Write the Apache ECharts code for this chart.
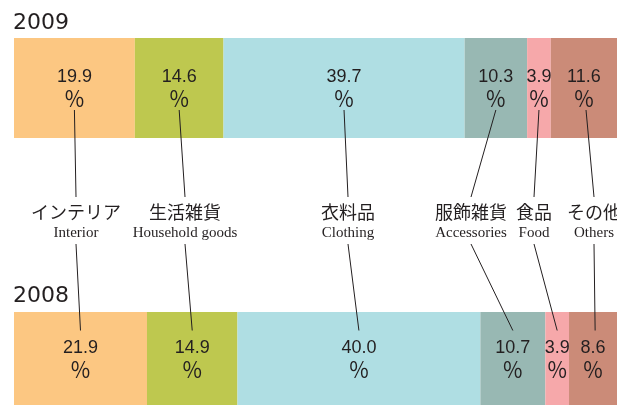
<!DOCTYPE html>
<html>
<head>
<meta charset="utf-8">
<script src="https://cdn.jsdelivr.net/npm/echarts@6/dist/echarts.min.js"></script>
<style>
  html, body { margin: 0; padding: 0; background: #fff; }
  #main { width: 617px; height: 405px; }
</style>
</head>
<body>
<div id="main"></div>
<script>
// カテゴリ
const namesJa = ['インテリア', '生活雑貨', '衣料品', '服飾雑貨', '食品', 'その他']
const namesEn = ['Interior', 'Household goods', 'Clothing', 'Accessories', 'Food', 'Others']
const years   = ['2009', '2008']

// 構成比 (%)
const share2009 = [19.9, 14.6, 39.7, 10.3, 3.9, 11.6]
const share2008 = [21.9, 14.9, 40.0, 10.7, 3.9, 8.6]

const colors = ['#fcc782', '#bec84f', '#afdee3', '#98b8b3', '#f6a8aa', '#cb8b78']

// 中段ラベルの中心 x (レイアウト用)
const labelX = [76, 185, 348, 471, 534, 594]

const textColor = '#231f20'
const shares = [share2009, share2008]

const valueLabel = {
  show: true,
  position: 'inside',
  formatter: p => '{n|' + p.value.toFixed(1) + '}\n{p|％}',
  rich: {
    n: { fontSize: 18, fontFamily: 'Liberation Sans', color: textColor, lineHeight: 21 },
    p: { fontSize: 21, fontFamily: 'Noto Sans CJK JP', color: textColor, lineHeight: 21 },
  },
}

const series = []
shares.forEach((arr, g) => {
  arr.forEach((v, i) => {
    series.push({
      name: namesEn[i] + ' ' + years[g],
      type: 'bar',
      stack: 'y' + g,
      xAxisIndex: g,
      yAxisIndex: g,
      barWidth: '100%',
      data: [v],
      itemStyle: { color: colors[i] },
      label: valueLabel,
      silent: true,
    })
  })
})

const chart = echarts.init(document.getElementById('main'))
chart.setOption({
  animation: false,
  title: years.map((y, g) => ({
    text: y,
    left: 13,
    top: g === 0 ? 12 : 285,
    padding: 0,
    textStyle: { fontSize: 22, fontWeight: 'normal', fontFamily: 'DejaVu Sans', color: textColor },
  })),
  // 右端は元図で切れているので、軸の上限を少し手前にして切り取りを再現
  grid: [
    { left: 14, top: 38, right: 0, height: 100 },
    { left: 14, top: 312, right: 0, height: 100 },
  ],
  xAxis: [0, 1].map(g => ({ type: 'value', gridIndex: g, min: 0, max: 99.3, show: false })),
  yAxis: [0, 1].map(g => ({ type: 'category', gridIndex: g, data: [years[g]], show: false })),
  series,
})

// 引き出し線と中段ラベル
const mid = (arr, i) => arr.slice(0, i).reduce((s, v) => s + v, 0) + arr[i] / 2
const graphics = []
namesJa.forEach((ja, i) => {
  const top = chart.convertToPixel({ xAxisIndex: 0, yAxisIndex: 0 }, [mid(share2009, i), years[0]])
  const bot = chart.convertToPixel({ xAxisIndex: 1, yAxisIndex: 1 }, [mid(share2008, i), years[1]])
  graphics.push({
    type: 'line',
    z: 100,
    shape: { x1: top[0], y1: top[1] + 22, x2: labelX[i], y2: 197 },
    style: { stroke: textColor, lineWidth: 1 },
  })
  graphics.push({
    type: 'line',
    z: 100,
    shape: { x1: labelX[i], y1: 244, x2: bot[0], y2: bot[1] - 28 },
    style: { stroke: textColor, lineWidth: 1 },
  })
  graphics.push({
    type: 'text',
    z: 100,
    x: labelX[i],
    y: 212,
    style: { text: ja, font: '18px "Noto Sans CJK JP"', fill: textColor, align: 'center', verticalAlign: 'middle' },
  })
  graphics.push({
    type: 'text',
    z: 100,
    x: labelX[i],
    y: 233,
    style: { text: namesEn[i], font: '15px "Liberation Serif"', fill: textColor, align: 'center', verticalAlign: 'middle' },
  })
})
chart.setOption({ graphic: graphics })
</script>
</body>
</html>
